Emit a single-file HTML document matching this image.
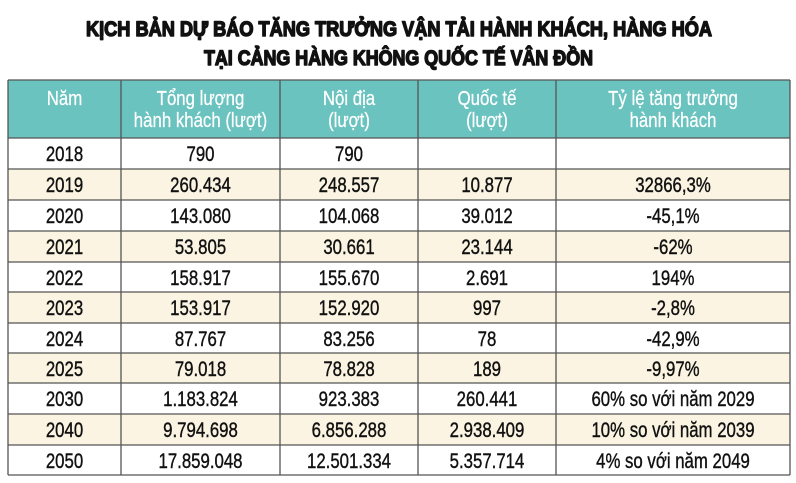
<!DOCTYPE html>
<html>
<head>
<meta charset="utf-8">
<style>
html,body{margin:0;padding:0;background:#fff;}
svg{display:block;}
text{font-family:"Liberation Sans",sans-serif;}
</style>
</head>
<body>
<svg width="796" height="483" viewBox="0 0 796 483" xmlns="http://www.w3.org/2000/svg">
  <rect x="0" y="0" width="796" height="483" fill="#ffffff"/>
  <!-- Title -->
  <g fill="#111" stroke="#111" stroke-width="1.5" stroke-linejoin="round">
  <text x="86" y="36" font-size="21.5" font-weight="bold" textLength="626" lengthAdjust="spacingAndGlyphs">KỊCH BẢN DỰ BÁO TĂNG TRƯỞNG VẬN TẢI HÀNH KHÁCH, HÀNG HÓA</text>
  <text x="204" y="65" font-size="21.5" font-weight="bold" textLength="389" lengthAdjust="spacingAndGlyphs">TẠI CẢNG HÀNG KHÔNG QUỐC TẾ VÂN ĐỒN</text>
  </g>

  <!-- Header background -->
  <rect x="8" y="80" width="782" height="58" fill="#6bc3bf"/>
  <!-- Row backgrounds -->
  <rect x="8" y="138" width="782" height="31" fill="#ffffff"/>
  <rect x="8" y="169" width="782" height="31" fill="#fbf4e2"/>
  <rect x="8" y="231" width="782" height="31" fill="#fbf4e2"/>
  <rect x="8" y="292" width="782" height="31" fill="#fbf4e2"/>
  <rect x="8" y="353" width="782" height="30" fill="#fbf4e2"/>
  <rect x="8" y="414" width="782" height="31" fill="#fbf4e2"/>

  <!-- Grid lines -->
  <g stroke="#555" stroke-width="1.3" fill="none">
    <line x1="8" y1="80" x2="790" y2="80"/>
    <line x1="8" y1="138" x2="790" y2="138"/>
    <line x1="8" y1="169" x2="790" y2="169"/>
    <line x1="8" y1="200" x2="790" y2="200"/>
    <line x1="8" y1="231" x2="790" y2="231"/>
    <line x1="8" y1="262" x2="790" y2="262"/>
    <line x1="8" y1="292" x2="790" y2="292"/>
    <line x1="8" y1="323" x2="790" y2="323"/>
    <line x1="8" y1="353" x2="790" y2="353"/>
    <line x1="8" y1="383" x2="790" y2="383"/>
    <line x1="8" y1="414" x2="790" y2="414"/>
    <line x1="8" y1="445" x2="790" y2="445"/>
    <line x1="8" y1="475" x2="790" y2="475"/>
    <line x1="8" y1="80" x2="8" y2="475"/>
    <line x1="121" y1="80" x2="121" y2="475"/>
    <line x1="280" y1="80" x2="280" y2="475"/>
    <line x1="418" y1="80" x2="418" y2="475"/>
    <line x1="556" y1="80" x2="556" y2="475"/>
    <line x1="790" y1="80" x2="790" y2="475"/>
  </g>

  <!-- Header text -->
  <g font-size="20.5" fill="#ffffff" stroke="#ffffff" stroke-width="0.25" text-anchor="middle">
    <g transform="translate(64.5,0) scale(0.82,1)">
      <text x="0" y="105">Năm</text>
    </g>
    <g transform="translate(200.5,0) scale(0.82,1)">
      <text x="0" y="105">Tổng lượng</text>
      <text x="0" y="127">hành khách (lượt)</text>
    </g>
    <g transform="translate(349,0) scale(0.82,1)">
      <text x="0" y="105">Nội địa</text>
      <text x="0" y="127">(lượt)</text>
    </g>
    <g transform="translate(487,0) scale(0.82,1)">
      <text x="0" y="105">Quốc tế</text>
      <text x="0" y="127">(lượt)</text>
    </g>
    <g transform="translate(673,0) scale(0.82,1)">
      <text x="0" y="105">Tỷ lệ tăng trưởng</text>
      <text x="0" y="127">hành khách</text>
    </g>
  </g>

  <!-- Body text -->
  <g font-size="21" fill="#111" stroke="#111" stroke-width="0.4" text-anchor="middle">
    <g transform="translate(64.5,0) scale(0.8,1)">
      <text x="0" y="161">2018</text>
      <text x="0" y="192">2019</text>
      <text x="0" y="223">2020</text>
      <text x="0" y="254">2021</text>
      <text x="0" y="285">2022</text>
      <text x="0" y="315">2023</text>
      <text x="0" y="346">2024</text>
      <text x="0" y="376">2025</text>
      <text x="0" y="406">2030</text>
      <text x="0" y="437">2040</text>
      <text x="0" y="468">2050</text>
    </g>
    <g transform="translate(200.5,0) scale(0.8,1)">
      <text x="0" y="161">790</text>
      <text x="0" y="192">260.434</text>
      <text x="0" y="223">143.080</text>
      <text x="0" y="254">53.805</text>
      <text x="0" y="285">158.917</text>
      <text x="0" y="315">153.917</text>
      <text x="0" y="346">87.767</text>
      <text x="0" y="376">79.018</text>
      <text x="0" y="406">1.183.824</text>
      <text x="0" y="437">9.794.698</text>
      <text x="0" y="468">17.859.048</text>
    </g>
    <g transform="translate(349,0) scale(0.8,1)">
      <text x="0" y="161">790</text>
      <text x="0" y="192">248.557</text>
      <text x="0" y="223">104.068</text>
      <text x="0" y="254">30.661</text>
      <text x="0" y="285">155.670</text>
      <text x="0" y="315">152.920</text>
      <text x="0" y="346">83.256</text>
      <text x="0" y="376">78.828</text>
      <text x="0" y="406">923.383</text>
      <text x="0" y="437">6.856.288</text>
      <text x="0" y="468">12.501.334</text>
    </g>
    <g transform="translate(487,0) scale(0.8,1)">
      <text x="0" y="192">10.877</text>
      <text x="0" y="223">39.012</text>
      <text x="0" y="254">23.144</text>
      <text x="0" y="285">2.691</text>
      <text x="0" y="315">997</text>
      <text x="0" y="346">78</text>
      <text x="0" y="376">189</text>
      <text x="0" y="406">260.441</text>
      <text x="0" y="437">2.938.409</text>
      <text x="0" y="468">5.357.714</text>
    </g>
    <g transform="translate(673,0) scale(0.8,1)">
      <text x="0" y="192">32866,3%</text>
      <text x="0" y="223">-45,1%</text>
      <text x="0" y="254">-62%</text>
      <text x="0" y="285">194%</text>
      <text x="0" y="315">-2,8%</text>
      <text x="0" y="346">-42,9%</text>
      <text x="0" y="376">-9,97%</text>
      <text x="0" y="406">60% so với năm 2029</text>
      <text x="0" y="437">10% so với năm 2039</text>
      <text x="0" y="468">4% so với năm 2049</text>
    </g>
  </g>
</svg>
</body>
</html>
